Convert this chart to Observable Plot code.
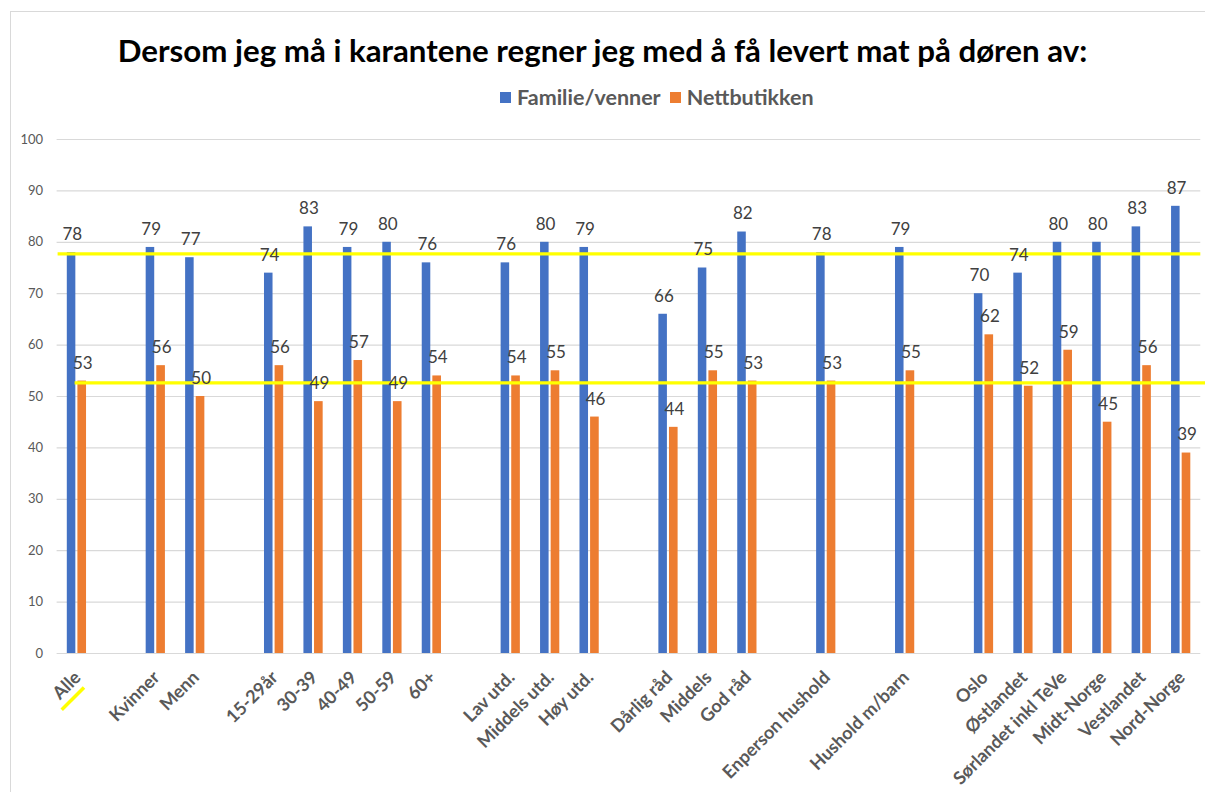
<!DOCTYPE html>
<html>
<head>
<meta charset="utf-8">
<script src="https://cdn.jsdelivr.net/npm/d3@7"></script>
<script src="https://cdn.jsdelivr.net/npm/@observablehq/plot@0.6"></script>
<style>
  html, body { margin: 0; padding: 0; background: #fff; }
  body { width: 1205px; height: 792px; position: relative; overflow: hidden; font-family: Lato, "Open Sans", sans-serif; }
  #frame { position: absolute; left: 10px; top: 11px; width: 1300px; height: 900px; border-left: 1px solid #d9d9d9; border-top: 1px solid #d9d9d9; }
  #title { position: absolute; left: 0; width: 1205px; top: 30px; text-align: center; font-weight: bold; color: #000; white-space: nowrap; font-size: 27px; line-height: 40px; }
  #title span { display: inline-block; }
  #legend { position: absolute; top: 85px; left: 500px; height: 24px; display: flex; align-items: center; white-space: nowrap; font-weight: bold; color: #595959; font-size: 21.5px; }
  #legend .sw { width: 11px; height: 11px; display: inline-block; margin-right: 6px; }
  #legend .item { display: flex; align-items: center; margin-right: 9px; }
  #chart { position: absolute; left: 0; top: 115px; }
</style>
</head>
<body>
<div id="frame"></div>
<div id="title"><span id="titletext">Dersom jeg må i karantene regner jeg med å få levert mat på døren av:</span></div>
<div id="legend"></div>
<div id="chart"></div>
<script>
// ---- Data ----
const categories = [
  "Alle", "gap1", "Kvinner", "Menn", "gap2",
  "15-29år", "30-39", "40-49", "50-59", "60+", "gap3",
  "Lav utd.", "Middels utd.", "Høy utd.", "gap4",
  "Dårlig råd", "Middels", "God råd", "gap5",
  "Enperson hushold", "gap6", "Hushold m/barn", "gap7",
  "Oslo", "Østlandet", "Sørlandet inkl TeVe", "Midt-Norge", "Vestlandet", "Nord-Norge"
];
const groups = [
  "Alle", "Kvinner", "Menn",
  "15-29år", "30-39", "40-49", "50-59", "60+",
  "Lav utd.", "Middels utd.", "Høy utd.",
  "Dårlig råd", "Middels", "God råd",
  "Enperson hushold", "Hushold m/barn",
  "Oslo", "Østlandet", "Sørlandet inkl TeVe", "Midt-Norge", "Vestlandet", "Nord-Norge"
];
const familieVenner = [78, 79, 77, 74, 83, 79, 80, 76, 76, 80, 79, 66, 75, 82, 78, 79, 70, 74, 80, 80, 83, 87];
const nettbutikken  = [53, 56, 50, 56, 49, 57, 49, 54, 54, 55, 46, 44, 55, 53, 53, 55, 62, 52, 59, 45, 56, 39];
const seriesNames = ["Familie/venner", "Nettbutikken"];
const seriesColors = ["#4472C4", "#ED7D31"];
const referenceLines = [77.75, 52.65];
const yTicks = [0, 10, 20, 30, 40, 50, 60, 70, 80, 90, 100];

const famData = groups.map((g, i) => ({cat: g, value: familieVenner[i]}));
const netData = groups.map((g, i) => ({cat: g, value: nettbutikken[i]}));

// ---- Legend ----
const legend = document.getElementById("legend");
seriesNames.forEach((n, i) => {
  const it = document.createElement("div");
  it.className = "item";
  it.innerHTML = `<span class="sw" style="background:${seriesColors[i]}"></span><span>${n}</span>`;
  legend.appendChild(it);
});

// fit title to width
const tt = document.getElementById("titletext");
const w0 = tt.getBoundingClientRect().width;
tt.style.fontSize = (27 * 970 / w0) + "px";

// ---- Chart ----
const plot = Plot.plot({
  width: 1205,
  height: 677,
  marginTop: 24,
  marginBottom: 139,
  marginLeft: 56.6,
  marginRight: 4.7,
  style: {fontFamily: "Lato, 'Open Sans', sans-serif", background: "transparent"},
  x: {type: "band", domain: categories, padding: 0, round: false, label: null},
  y: {domain: [0, 100], label: null},
  marks: [
    Plot.ruleY(yTicks, {stroke: "#d9d9d9", strokeWidth: 1.2}),
    Plot.barY(famData, {x: "cat", y: "value", fill: seriesColors[0], insetLeft: 10.2, insetRight: 20.7}),
    Plot.barY(netData, {x: "cat", y: "value", fill: seriesColors[1], insetLeft: 20.8, insetRight: 10.0}),
    Plot.ruleY([referenceLines[0]], {stroke: "#ffff00", strokeWidth: 3.2, insetLeft: 1}),
    Plot.ruleY([referenceLines[1]], {stroke: "#ffff00", strokeWidth: 3.2, insetLeft: 18, insetRight: -5}),
    Plot.text(famData, {x: "cat", y: "value", text: d => String(d.value), dx: -4.5, dy: -18, fill: "#404040", fontSize: 17}),
    Plot.text(netData, {x: "cat", y: "value", text: d => String(d.value), dx: 6, dy: -18, fill: "#404040", fontSize: 17}),
    Plot.axisY({ticks: yTicks, tickSize: 0, tickPadding: 14, fontSize: 13, fill: "#595959", color: "#595959"}),
    Plot.axisX({
      tickRotate: -45, tickSize: 0, tickPadding: 21, dx: 1,
      fontSize: 18, fontWeight: "bold", fill: "#595959", color: "#595959",
      tickFormat: d => d.startsWith("gap") ? "" : d
    })
  ]
});
document.getElementById("chart").appendChild(plot);

// yellow underline annotation under "Alle"
const xs = plot.scale("x"), ys = plot.scale("y");
const cx = xs.apply("Alle") + xs.bandwidth / 2;
const y0 = ys.apply(0);
const svg = d3.select(plot);
svg.append("line")
  .attr("x1", cx - 14.6).attr("y1", y0 + 56.7)
  .attr("x2", cx + 7.7).attr("y2", y0 + 34.4)
  .attr("stroke", "#ffff00").attr("stroke-width", 3.5);
</script>
</body>
</html>
